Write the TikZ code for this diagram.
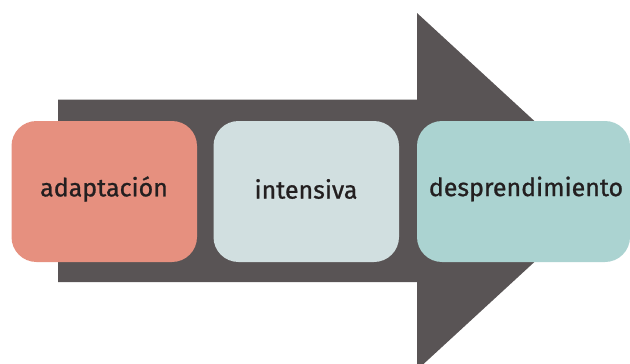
\documentclass[tikz,border=0pt]{standalone}
\usepackage{fontspec}
\setmainfont{Fira Sans}
\newfontfamily\lblfont{Fira Sans}[FakeBold=0.9]
\definecolor{arrowgray}{HTML}{595455}
\definecolor{salmon}{HTML}{E6907F}
\definecolor{paleblue}{HTML}{D1DFE0}
\definecolor{teal2}{HTML}{ABD3D1}
\definecolor{txt}{HTML}{231F20}
\begin{document}
\begin{tikzpicture}[x=1pt,y=-1pt,
  stepbox/.style={rounded corners=25pt, inner sep=0pt},
  lbl/.style={text=txt, font=\lblfont\fontsize{25}{30}\selectfont}]
\useasboundingbox (0,0) rectangle (630,364);
\begin{scope}
\clip (0,0) rectangle (630,364);
\fill[arrowgray] (58,99.5) -- (417,99.5) -- (417,13) -- (611,191.5) -- (417,370) -- (417,282) -- (58,282) -- cycle;
\fill[salmon,stepbox] (11.5,121) rectangle (197,262);
\fill[paleblue,stepbox] (213.5,121) rectangle (399,262);
\fill[teal2,stepbox] (417,121) rectangle (630,262);
\end{scope}
\node[lbl] (a) at (104,189) {adaptación};
\node[lbl] (b) at (306,189) {intensiva};
\node[lbl] (c) at (526,189) {desprendimiento};
\end{tikzpicture}
\end{document}
